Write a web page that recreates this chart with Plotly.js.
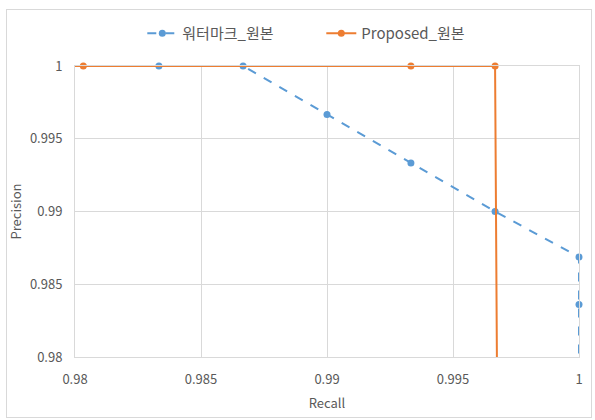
<!DOCTYPE html>
<html><head><meta charset="utf-8">
<script src="https://cdn.plot.ly/plotly-3.0.1.min.js"></script>
<style>
body{margin:0;padding:0;background:#fff;}
#frame{position:absolute;left:6px;top:9px;width:584px;height:407px;border:1px solid #d9d9d9;}
#chart{position:absolute;left:0;top:0;width:595px;height:420px;}
</style></head>
<body>
<div id="frame"></div>
<div id="chart"></div>
<script>
const seriesNames = ["워터마크_원본", "Proposed_원본"];
const wmRecall = [0.98333, 0.98667, 0.99, 0.99333, 0.99667, 1.0, 1.0, 1.0];
const wmPrecision = [1.0, 1.0, 0.99667, 0.99333, 0.99, 0.98687, 0.98361, 0.96];
const prRecall = [0.97, 0.98033, 0.99333, 0.99667, 0.99676];
const prPrecision = [1.0, 1.0, 1.0, 1.0, 0.975];
const xTicks = [0.98, 0.985, 0.99, 0.995, 1];
const yTicks = [0.98, 0.985, 0.99, 0.995, 1];

const traces = [
  {x: wmRecall, y: wmPrecision, name: seriesNames[0], mode: 'lines+markers', cliponaxis: false,
   line: {color: '#5B9BD5', width: 2, dash: 'dash'}, marker: {color: '#5B9BD5', size: 7}},
  {x: prRecall, y: prPrecision, name: seriesNames[1], mode: 'lines+markers', cliponaxis: false,
   line: {color: '#ED7D31', width: 2}, marker: {color: '#ED7D31', size: 7}}
];
const fam = 'Noto Sans CJK KR, Noto Sans, sans-serif';
const tickFont = {family: fam, size: 13, color: '#595959'};
const layout = {
  width: 595, height: 420,
  margin: {l: 75, r: 16, t: 66, b: 63},
  paper_bgcolor: 'rgba(0,0,0,0)', plot_bgcolor: '#fff',
  showlegend: true,
  legend: {orientation: 'h', xref: 'container', yref: 'container', x: 0.54, xanchor: 'center', y: 0.92, yanchor: 'middle',
    font: {family: fam, size: 15, color: '#595959'}, entrywidth: 134, entrywidthmode: 'pixels'},
  xaxis: {range: [0.98, 1], tickvals: xTicks, ticktext: xTicks.map(String), showgrid: true, gridcolor: '#d9d9d9',
    zeroline: false, showline: true, linecolor: '#d9d9d9', mirror: true, ticks: '', tickfont: tickFont, ticklabelstandoff: 10,
    title: {text: 'Recall', font: {family: fam, size: 13, color: '#595959'}, standoff: 12}},
  yaxis: {range: [0.98, 1], tickvals: yTicks, ticktext: yTicks.map(String), showgrid: true, gridcolor: '#d9d9d9',
    zeroline: false, showline: true, linecolor: '#d9d9d9', mirror: true, ticks: '', tickfont: tickFont, ticklabelstandoff: 9,
    title: {text: 'Precision', font: {family: fam, size: 13, color: '#595959'}, standoff: 5}}
};
Plotly.newPlot('chart', traces, layout, {displayModeBar: false, staticPlot: true});
</script>
</body></html>
